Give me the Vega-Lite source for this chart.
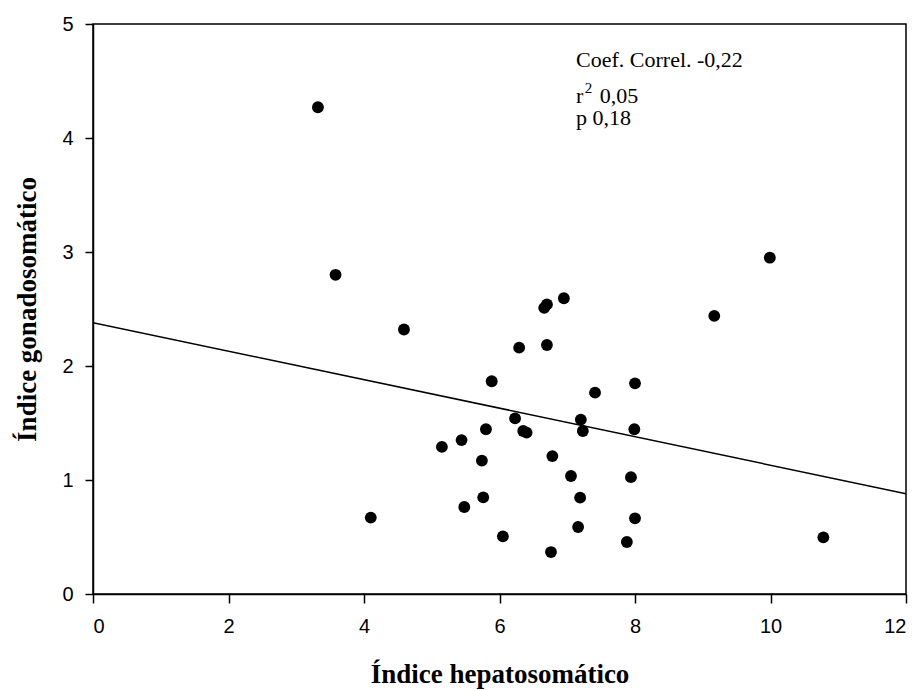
{
  "$schema": "https://vega.github.io/schema/vega-lite/v6.json",
  "autosize": {"type": "none"},
  "width": 813,
  "height": 570,
  "padding": {"left": 93, "top": 24, "right": 16, "bottom": 97},
  "background": "white",
  "config": {
    "view": {"stroke": "black", "strokeWidth": 1.5},
    "axis": {
      "grid": false,
      "domainColor": "black",
      "domainWidth": 1.5,
      "tickColor": "black",
      "tickWidth": 1.5,
      "labelFont": "Liberation Sans",
      "labelFontSize": 20,
      "labelColor": "black",
      "format": "d",
      "titleFont": "Liberation Serif",
      "titleFontSize": 27,
      "titleFontWeight": "bold",
      "titleColor": "black"
    }
  },
  "datasets": {
    "pts": [
      {"ihs": 3.32, "igs": 4.27},
      {"ihs": 3.58, "igs": 2.80},
      {"ihs": 4.59, "igs": 2.32},
      {"ihs": 4.10, "igs": 0.67},
      {"ihs": 5.15, "igs": 1.29},
      {"ihs": 5.44, "igs": 1.35},
      {"ihs": 5.80, "igs": 1.445},
      {"ihs": 6.23, "igs": 1.54},
      {"ihs": 6.35, "igs": 1.43},
      {"ihs": 6.40, "igs": 1.415},
      {"ihs": 7.20, "igs": 1.53},
      {"ihs": 7.23, "igs": 1.43},
      {"ihs": 7.99, "igs": 1.445},
      {"ihs": 5.74, "igs": 1.17},
      {"ihs": 6.78, "igs": 1.21},
      {"ihs": 7.055, "igs": 1.035},
      {"ihs": 7.94, "igs": 1.025},
      {"ihs": 5.48, "igs": 0.763},
      {"ihs": 5.76, "igs": 0.848},
      {"ihs": 7.19, "igs": 0.845},
      {"ihs": 8.00, "igs": 0.664},
      {"ihs": 6.05, "igs": 0.506},
      {"ihs": 7.16, "igs": 0.588},
      {"ihs": 6.76, "igs": 0.368},
      {"ihs": 7.88, "igs": 0.456},
      {"ihs": 5.885, "igs": 1.866},
      {"ihs": 9.99, "igs": 2.95},
      {"ihs": 9.17, "igs": 2.44},
      {"ihs": 10.78, "igs": 0.497},
      {"ihs": 6.66, "igs": 2.51},
      {"ihs": 6.70, "igs": 2.54},
      {"ihs": 6.95, "igs": 2.594},
      {"ihs": 6.29, "igs": 2.161},
      {"ihs": 6.70, "igs": 2.184},
      {"ihs": 7.41, "igs": 1.766},
      {"ihs": 8.00, "igs": 1.848}
    ],
    "fit": [
      {"ihs": 0, "igs": 2.38},
      {"ihs": 12, "igs": 0.88}
    ],
    "notes": [
      {"ihs": 7.13, "igs": 4.625, "t": "Coef. Correl. -0,22"},
      {"ihs": 7.13, "igs": 4.31, "t": "r"},
      {"ihs": 7.48, "igs": 4.31, "t": "0,05"},
      {"ihs": 7.13, "igs": 4.114, "t": "p 0,18"}
    ],
    "sup": [
      {"ihs": 7.26, "igs": 4.392, "t": "2"}
    ]
  },
  "layer": [
    {
      "data": {"name": "fit"},
      "mark": {"type": "line", "color": "black", "strokeWidth": 1.5, "clip": true},
      "encoding": {
        "x": {"field": "ihs", "type": "quantitative",
              "scale": {"domain": [0, 12], "nice": false, "zero": false},
              "axis": {"values": [0, 2, 4, 6, 8, 10, 12], "tickSize": 9, "labelPadding": 13,
                       "title": "Índice hepatosomático", "titlePadding": 25}},
        "y": {"field": "igs", "type": "quantitative",
              "scale": {"domain": [0, 5], "nice": false, "zero": false},
              "axis": {"values": [0, 1, 2, 3, 4, 5], "tickSize": 8, "labelPadding": 12,
                       "title": "Índice gonadosomático", "titlePadding": 20}}
      }
    },
    {
      "data": {"name": "pts"},
      "mark": {"type": "circle", "color": "black", "opacity": 1, "size": 140},
      "encoding": {
        "x": {"field": "ihs", "type": "quantitative"},
        "y": {"field": "igs", "type": "quantitative"}
      }
    },
    {
      "data": {"name": "notes"},
      "mark": {"type": "text", "align": "left", "baseline": "alphabetic", "font": "Liberation Serif", "fontSize": 22, "color": "black"},
      "encoding": {
        "x": {"field": "ihs", "type": "quantitative"},
        "y": {"field": "igs", "type": "quantitative"},
        "text": {"field": "t"}
      }
    },
    {
      "data": {"name": "sup"},
      "mark": {"type": "text", "align": "left", "baseline": "alphabetic", "font": "Liberation Serif", "fontSize": 15, "color": "black"},
      "encoding": {
        "x": {"field": "ihs", "type": "quantitative"},
        "y": {"field": "igs", "type": "quantitative"},
        "text": {"field": "t"}
      }
    }
  ]
}
